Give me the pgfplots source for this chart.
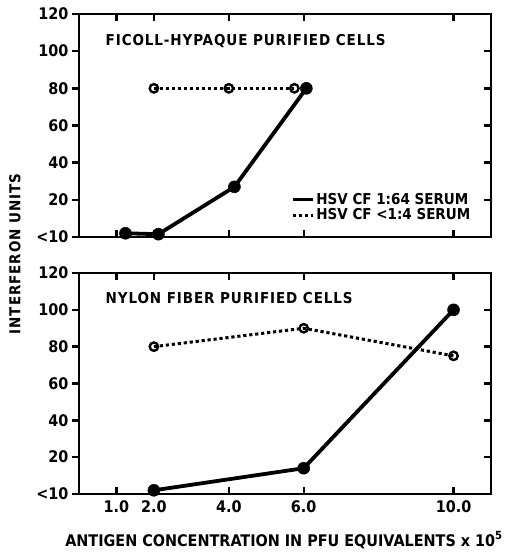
\documentclass[border=0pt]{standalone}
\usepackage{fontspec}
\setmainfont{DejaVu Sans Condensed Bold}
\newfontfamily\spaced[LetterSpace=6]{DejaVu Sans Condensed Bold}
\usepackage{pgfplots}
\pgfplotsset{compat=1.18}
\pgfplotsset{
  base/.style={scale only axis, width=412bp, xmin=0, xmax=11, ymin=0, ymax=120,
    xtick={1,2,4,6,10}, ytick={0,20,40,60,80,100,120},
    axis line style={line width=2.4bp}, clip=false,
    major tick length=7bp,
    every tick/.style={black, line width=2.4bp},
    /pgf/number format/assume math mode=true,
    tick label style={font=\fontsize{16bp}{16bp}\selectfont}},
  inner/.style={base, tick align=inside, xtick pos=both, ytick pos=right,
    yticklabels={}, xticklabel pos=lower},
  outer/.style={base, tick align=outside, ytick pos=left, hide x axis,
    yticklabels={\textless10,20,40,60,80,100,120}, yticklabel style={xshift=0bp}},
  solidser/.style={black, line width=3.8bp, mark=*, mark size=6bp, mark options={solid, fill=black, line width=0.5bp}},
  dotser/.style={black, line width=3bp, dash pattern=on 3.2bp off 2.8bp, mark=o, mark size=4.2bp, mark options={solid, fill=white, line width=2.4bp}},
}
\begin{document}
\begin{tikzpicture}
\path[use as bounding box] (0,0) rectangle (508bp,555bp);
% ---------- top panel ----------
\begin{axis}[outer, at={(79bp,318bp)}, anchor=south west, height=223bp]
\end{axis}
\begin{axis}[inner, at={(79bp,318bp)}, anchor=south west, height=223bp, xticklabels={},
  legend style={at={(0.955,0.06)}, anchor=south east, draw=none, fill=none,
    font=\fontsize{15bp}{16bp}\selectfont, row sep=-1bp, inner sep=0pt,
    /tikz/every even column/.append style={column sep=2bp}},
  legend cell align=left,
  legend image code/.code={\draw[#1, line width=3bp] (0bp,0bp) -- (20bp,0bp);}]
\addplot[solidser] coordinates {(1.24,2) (2.12,1.5) (4.15,27) (6.07,80)};
\addlegendentry{HSV CF 1:64 SERUM}
\addplot[dotser] coordinates {(2.0,80) (4.0,80) (5.75,80)};
\addlegendentry{HSV CF \textless1:4 SERUM}
\node[anchor=west, font=\spaced\fontsize{15bp}{16bp}\selectfont] at (axis cs:0.62,105.5) {FICOLL-HYPAQUE PURIFIED CELLS};
\end{axis}
% ---------- bottom panel ----------
\begin{axis}[outer, at={(79bp,61bp)}, anchor=south west, height=221bp]
\end{axis}
\begin{axis}[inner, at={(79bp,61bp)}, anchor=south west, height=221bp,
  xticklabels={1.0,2.0,4.0,6.0,10.0}, xticklabel style={yshift=-3bp}]
\addplot[dotser] coordinates {(2,80) (6,90) (10,75)};
\addplot[solidser] coordinates {(2,2) (6,14) (10,100)};
\node[anchor=west, font=\spaced\fontsize{15bp}{16bp}\selectfont] at (axis cs:0.62,106.5) {NYLON FIBER PURIFIED CELLS};
\end{axis}
\node[rotate=90, font=\spaced\fontsize{15bp}{16bp}\selectfont] at (15bp,301bp) {INTERFERON UNITS};
\node[font=\fontsize{16bp}{16bp}\selectfont] at (284bp,15bp) {ANTIGEN CONCENTRATION IN PFU EQUIVALENTS x 10\textsuperscript{5}};
\end{tikzpicture}
\end{document}
